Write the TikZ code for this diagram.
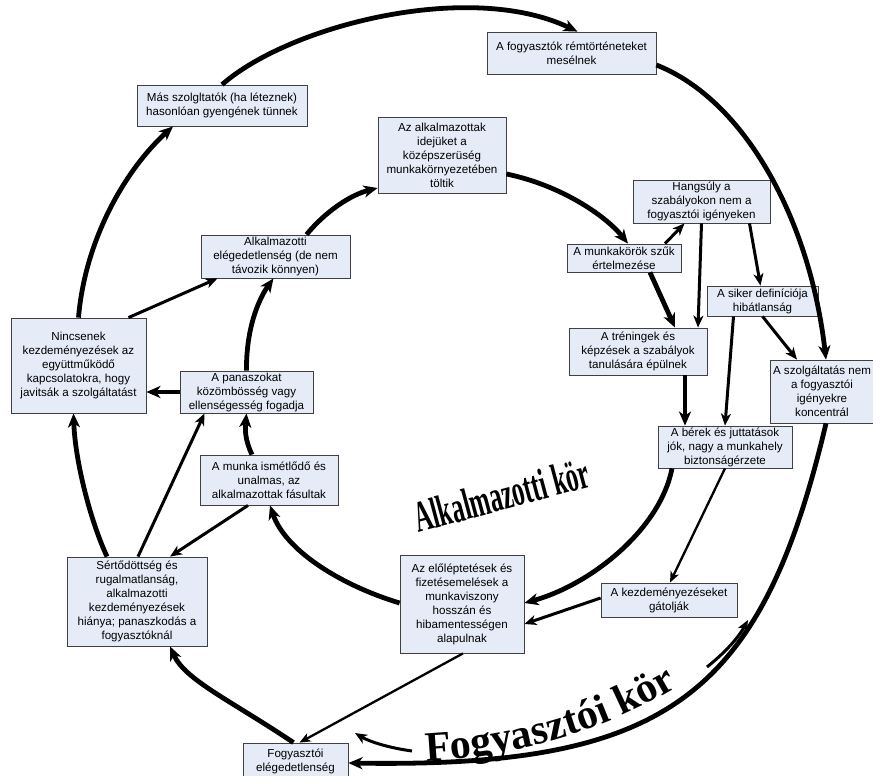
\documentclass[tikz,border=0pt]{standalone}
\usepackage{fontspec}
\setmainfont{Liberation Sans}
\newfontfamily\korfont{Liberation Serif}
\usetikzlibrary{calc,arrows.meta,decorations.text}
\definecolor{boxfill}{RGB}{229,235,247}
\definecolor{boxline}{RGB}{64,64,64}

\begin{document}
\begin{tikzpicture}[x=1pt,y=-1pt,
	doboz/.style 2 args={draw=boxline,line width=0.8pt,fill=boxfill,align=center,inner xsep=2pt,inner ysep=0pt,minimum width=#1pt,minimum height=#2pt,font=\fontsize{11.6}{14}\selectfont},
	vastag/.style={line width=4.8pt,-{Stealth[length=14pt,width=12pt,inset=4pt]}},
	kozep/.style={line width=3pt,-{Stealth[length=12pt,width=10pt,inset=3.5pt]}},
	vekony/.style={line width=2.3pt,-{Stealth[length=11pt,width=9pt,inset=3pt]}}]
			\useasboundingbox (0,0) rectangle (873,776);
			\clip (0,0) rectangle (873,776);
			\node[doboz={170}{41}] (mas) at (222,105.5) {Más szolgltatók (ha léteznek)\\hasonlóan gyengének tünnek};
			\node[doboz={169}{42}] (rem) at (571.5,53) {A fogyasztók rémtörténeteket\\mesélnek};
			\node[doboz={128}{76}] (ido) at (442,155) {Az alkalmazottak\\idejüket a\\középszerüség\\munkakörnyezetében\\töltik};
			\node[doboz={149}{43}] (eleg) at (275.5,256.5) {Alkalmazotti\\elégedetlenség (de nem\\távozik könnyen)};
			\node[doboz={137}{43}] (hang) at (701.5,201.5) {Hangsúly a\\szabályokon nem a\\fogyasztói igényeken};
			\node[doboz={114}{28}] (szuk) at (624,258) {A munkakörök szűk\\értelmezése};
			\node[doboz={111}{30}] (siker) at (762.5,301) {A siker definíciója\\hibátlanság};
			\node[doboz={138}{47}] (tren) at (638,351.5) {A tréningek és\\képzések a szabályok\\tanulására épülnek};
			\node[doboz={104}{63}] (szolg) at (822,391.5) {A szolgáltatás nem\\a fogyasztói\\igényekre\\koncentrál};
			\node[doboz={134}{42}] (berek) at (725,447) {A bérek és juttatások\\jók, nagy a munkahely\\biztonságérzete};
			\node[doboz={135}{95}] (ninc) at (78.5,365.5) {Nincsenek\\kezdeményezések az\\együttműködő\\kapcsolatokra, hogy\\javitsák a szolgáltatást};
			\node[doboz={133}{42}] (pan) at (246.5,392) {A panaszokat\\közömbösség vagy\\ellenségesség fogadja};
			\node[doboz={138}{50}] (munka) at (269,480) {A munka ismétlődő és\\unalmas, az\\alkalmazottak fásultak};
			\node[doboz={140}{89}] (sert) at (137,601.5) {Sértődöttség és\\rugalmatlanság,\\alkalmazotti\\kezdeményezések\\hiánya; panaszkodás a\\fogyasztóknál};
			\node[doboz={124}{98}] (elo) at (462,604) {Az előléptetések és\\fizetésemelések a\\munkaviszony\\hosszán és\\hibamentességen\\alapulnak};
			\node[doboz={136}{34}] (kezd) at (669,600) {A kezdeményezéseket\\gátolják};
			\node[doboz={105}{36}] (fogy) at (295.5,761) {Fogyasztói\\elégedetlenség};
			% fogyasztoi kor
			\draw[vastag] (mas.north) .. controls (290,25) and (470,-20) .. ($(rem.north)+(6,0)$);
			\draw[vastag] ($(rem.east)+(0,12)$) .. controls (745,100) and (810,220) .. ($(szolg.north)+(4,0)$);
			\draw[vastag] ($(szolg.south)+(4,0)$) .. controls (761,698) and (666,768) .. ($(fogy.east)+(0,2)$);
			\draw[vastag] ($(fogy.north)+(-2,0)$) .. controls (230,700) and (185,680) .. ($(sert.south)+(33,0)$);
			\draw[vastag] ($(sert.north)+(-30,0)$) .. controls (90,520) and (75,460) .. ($(ninc.south)+(-5,0)$);
			\draw[vastag] (ninc.north) .. controls (85,240) and (125,170) .. ($(mas.south)+(-49,0)$);
			% alkalmazotti kor
			\draw[vastag] ($(eleg.north)+(31,0)$) .. controls (325,212) and (350,195) .. ($(ido.west)+(0,33)$);
			\draw[vastag] ($(ido.east)+(0,19)$) .. controls (560,185) and (605,215) .. ($(szuk.north)+(4,0)$);
			\draw[kozep] ($(szuk.north)+(41,0)$) -- ($(hang.south)+(-17,0)$);
			\draw[vastag] ($(szuk.south)+(26,0)$) -- ($(tren.north)+(37,0)$);
			\draw[kozep] (hang.south) -- ($(tren.north)+(60,0)$);
			\draw[kozep] ($(hang.south)+(48,0)$) -- ($(siker.north)+(-2,0)$);
			\draw[kozep] ($(siker.south)+(-29,0)$) -- (berek.north);
			\draw[kozep] (siker.south) -- ($(szolg.north)+(-25,0)$);
			\draw[vastag] ($(tren.south)+(47,0)$) -- ($(berek.north)+(-40,0)$);
			\draw[vastag] ($(berek.south)+(-53,0)$) .. controls (660,530) and (590,585) .. ($(elo.east)+(0,-1)$);
			\draw[vekony] (berek.south) -- ($(kezd.north)+(1,0)$);
			\draw[kozep] ($(kezd.west)+(0,-2)$) -- ($(elo.east)+(0,20)$);
			\draw[vastag] ($(elo.west)+(0,-1)$) .. controls (340,585) and (285,550) .. ($(munka.south)+(1,0)$);
			\draw[vekony] ($(elo.south)+(1,0)$) -- ($(fogy.north)+(4,0)$);
			\draw[vastag] ($(munka.north)+(-17,0)$) .. controls (245,440) and (245,430) .. (pan.south);
			\draw[kozep] ($(munka.south)+(-21,0)$) -- ($(sert.north)+(33,0)$);
			\draw[kozep] ($(sert.north)+(1,0)$) -- ($(pan.south)+(-42,0)$);
			\draw[vastag] (pan.west) -- ($(ninc.east)+(0,26.5)$);
			\draw[kozep] ($(ninc.north)+(50,0)$) -- ($(eleg.south)+(-58,0)$);
			\draw[vastag] (pan.north) .. controls (246,330) and (258,300) .. ($(eleg.south)+(-2,0)$);
			% feliratok
			\coordinate (fk1) at (412,751);
			\coordinate (fk2) at (355,733);
			\coordinate (fk3) at (707,667);
			\coordinate (fk4) at (748,620);
			\draw[kozep] (fk1) .. controls (390,748) and (370,742) .. (fk2);
			\draw[kozep] (fk3) .. controls (722,655) and (737,640) .. (fk4);
			\path[decorate,decoration={text along path,text={|\korfont\bfseries\fontsize{42}{42}\selectfont|Fogyasztói kör}}] (426,761) .. controls (520,756) and (625,730) .. (725,655);
			\node[anchor=base west,inner sep=0pt,rotate=15,xscale=0.56,font=\korfont\bfseries\fontsize{44}{44}\selectfont] (alkkor) at (418,533) {Alkalmazotti kör};
\end{tikzpicture}
\end{document}
